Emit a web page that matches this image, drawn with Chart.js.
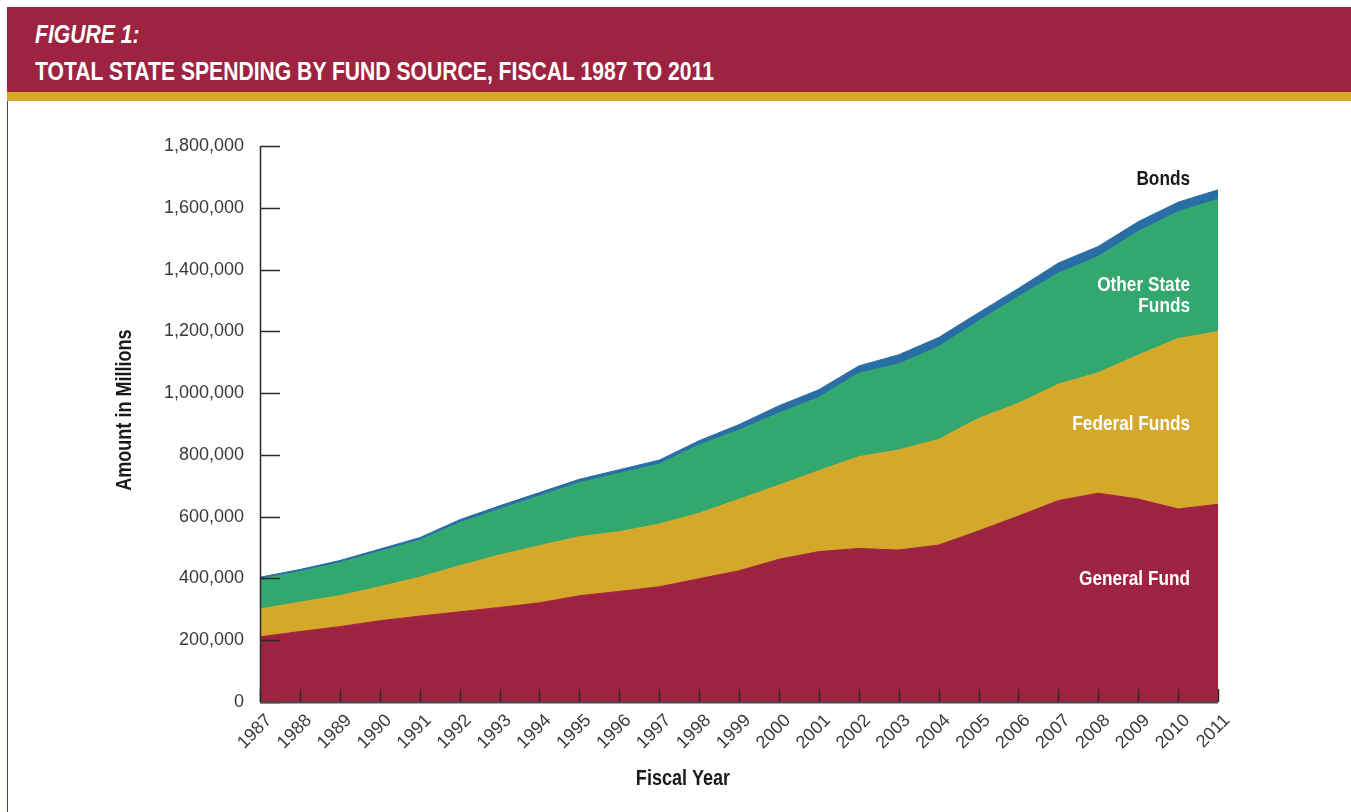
<!DOCTYPE html>
<html lang="en">
<head>
<meta charset="UTF-8">
<title>Total State Spending by Fund Source</title>
<script src="https://cdn.jsdelivr.net/npm/chart.js"></script>
<style>
  html, body { margin: 0; padding: 0; background: #fff; }
  body { width: 1351px; height: 812px; position: relative; overflow: hidden; }
  #chart { position: absolute; left: 0; top: 0; }
  .band { position: absolute; left: 7px; top: 7px; width: 1344px; height: 85px; background: #9E2340; }
  .stripe { position: absolute; left: 7px; top: 92px; width: 1344px; height: 9px; background: #D6A92A; }
  .border { position: absolute; left: 7px; top: 101px; width: 1px; height: 711px; background: #3B3F8C; }
  .title { position: absolute; left: 35px; color: #fff; font-family: "Liberation Sans", Arial, sans-serif;
           font-weight: bold; font-size: 25px; white-space: nowrap; transform: scaleX(0.845); transform-origin: 0 0; }
  .t1 { top: 20px; font-style: italic; }
  .t2 { top: 57px; }
</style>
</head>
<body>
<canvas id="chart" width="1351" height="812"></canvas>
<div class="band"></div>
<div class="stripe"></div>
<div class="border"></div>
<div class="title t1">FIGURE 1:</div>
<div class="title t2">TOTAL STATE SPENDING BY FUND SOURCE, FISCAL 1987 TO 2011</div>

<script>
// ================= DATOS (millones) =================
const years = ["1987","1988","1989","1990","1991","1992","1993","1994","1995","1996","1997","1998",
  "1999","2000","2001","2002","2003","2004","2005","2006","2007","2008","2009","2010","2011"];

const generalFund = [211000,228000,244000,263000,278000,292000,306000,321000,344000,358000,373000,399000,
  425000,462000,487000,497000,492000,508000,554000,602000,652000,676000,657000,625000,640000];

const federalFunds = [90000,95000,100000,110000,126000,149000,170000,185000,191000,193000,203000,212000,
  231000,240000,262000,297000,324000,342000,364000,365000,377000,390000,466000,552000,559000];

const otherStateFunds = [97000,99000,107000,114000,120000,139000,148000,161000,175000,189000,194000,221000,
  224000,233000,237000,270000,278000,300000,315000,345000,359000,376000,400000,410000,428000];

const bonds = [6000,7000,7000,8000,8000,10000,11000,11000,11000,12000,13000,14000,
  18000,24000,25000,24000,30000,30000,27000,27000,33000,33000,32000,31000,31000];

const yTicks = [0,200000,400000,600000,800000,1000000,1200000,1400000,1600000,1800000];

// ================= COLORES =================
const RED = "#9E2340", GOLD = "#D4A82A", GREEN = "#32A86E", BLUE = "#2A6EA6";
const SANS = '"Liberation Sans", Arial, sans-serif';

// texto bold "condensado" (no hay fuente narrow instalada)
function narrowText(ctx, text, x, y, size, color, align, angle) {
  ctx.save();
  ctx.translate(x, y);
  if (angle) ctx.rotate(angle);
  ctx.scale(0.82, 1);
  ctx.font = "bold " + size + "px " + SANS;
  ctx.textAlign = align;
  ctx.textBaseline = "middle";
  ctx.fillStyle = color;
  ctx.fillText(text, 0, 0);
  ctx.restore();
}

// marcas hacia dentro, ejes y etiquetas de series
const insidePlugin = {
  id: "inside",
  afterDatasetsDraw(chart) {
    const { ctx, chartArea: a, scales: { x, y } } = chart;
    ctx.save();
    ctx.strokeStyle = "#2b2b2b";
    ctx.lineWidth = 1.5;
    ctx.beginPath();
    yTicks.forEach(v => {
      const py = Math.round(y.getPixelForValue(v)) + 0.5;
      ctx.moveTo(a.left, py); ctx.lineTo(a.left + 20, py);
    });
    years.forEach((_, i) => {
      const px = Math.round(x.getPixelForValue(i)) + 0.5;
      ctx.moveTo(px, a.bottom); ctx.lineTo(px, a.bottom - 13);
    });
    ctx.stroke();
    ctx.beginPath();
    ctx.moveTo(a.left + 0.5, y.getPixelForValue(1800000));
    ctx.lineTo(a.left + 0.5, a.bottom);
    ctx.stroke();
    ctx.strokeStyle = "#4a4a4a";
    ctx.lineWidth = 2;
    ctx.beginPath();
    ctx.moveTo(a.left, a.bottom + 0.5);
    ctx.lineTo(a.right, a.bottom + 0.5);
    ctx.stroke();
    ctx.restore();

    const tx = a.right - 28;
    narrowText(ctx, "Bonds", tx, y.getPixelForValue(1693000), 21, "#1a1a1a", "right");
    narrowText(ctx, "Other State", tx, y.getPixelForValue(1348000), 21, "#fff", "right");
    narrowText(ctx, "Funds", tx, y.getPixelForValue(1280000), 21, "#fff", "right");
    narrowText(ctx, "Federal Funds", tx, y.getPixelForValue(900000), 21, "#fff", "right");
    narrowText(ctx, "General Fund", tx, y.getPixelForValue(398000), 21, "#fff", "right");

    // titulos de ejes
    narrowText(ctx, "Fiscal Year", 683, a.bottom + 77, 22, "#1a1a1a", "center");
    narrowText(ctx, "Amount in Millions", 125, y.getPixelForValue(945000), 22, "#1a1a1a", "center", -Math.PI / 2);
  }
};

function area(label, data, color, fill) {
  return {
    label, data, fill,
    backgroundColor: color,
    borderColor: color,
    borderWidth: 1,
    pointRadius: 0,
    tension: 0
  };
}

new Chart(document.getElementById("chart"), {
  type: "line",
  data: {
    labels: years,
    datasets: [
      area("General Fund", generalFund, RED, "origin"),
      area("Federal Funds", federalFunds, GOLD, "-1"),
      area("Other State Funds", otherStateFunds, GREEN, "-1"),
      area("Bonds", bonds, BLUE, "-1")
    ]
  },
  options: {
    responsive: false,
    animation: false,
    layout: { padding: { top: 146, right: 133, left: 0, bottom: 0 } },
    plugins: { legend: { display: false }, tooltip: { enabled: false } },
    scales: {
      x: {
        offset: false,
        grid: { display: false, drawTicks: false },
        border: { display: false },
        afterFit: s => { s.height = 110; },
        ticks: {
          autoSkip: false, minRotation: 45, maxRotation: 45, padding: 8, labelOffset: 9,
          color: "#3a3a3a", font: { family: SANS, size: 18 }
        }
      },
      y: {
        stacked: true,
        min: 0, max: 1800000,
        afterFit: s => { s.width = 260; },
        grid: { display: false, drawTicks: false },
        border: { display: false },
        afterBuildTicks: s => { s.ticks = yTicks.map(v => ({ value: v })); },
        ticks: {
          padding: 16, color: "#3a3a3a",
          font: { family: SANS, size: 18 },
          callback: v => v.toLocaleString("en-US")
        }
      }
    }
  },
  plugins: [insidePlugin]
});
</script>
</body>
</html>
